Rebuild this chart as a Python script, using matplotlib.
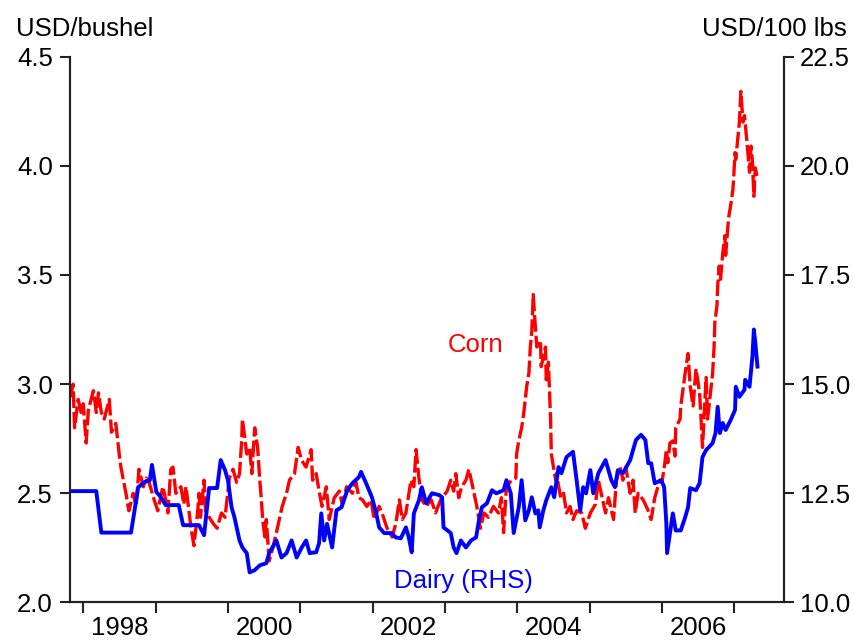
import numpy as np
import matplotlib
matplotlib.use('Agg')
import matplotlib.pyplot as plt
from matplotlib.ticker import FormatStrFormatter

# corn price, USD/bushel (left axis)
corn_t = [1997.82, 1997.86, 1997.88, 1997.93, 1997.97, 1998.00, 1998.04, 1998.07, 1998.14, 1998.18,
          1998.21, 1998.25, 1998.29, 1998.36, 1998.39, 1998.45, 1998.48, 1998.50, 1998.52, 1998.56,
          1998.59, 1998.63, 1998.69, 1998.73, 1998.77, 1998.83, 1998.87, 1998.91, 1998.98, 1999.03,
          1999.10, 1999.14, 1999.17, 1999.21, 1999.24, 1999.28, 1999.35, 1999.39, 1999.42, 1999.49,
          1999.53, 1999.58, 1999.60, 1999.62, 1999.67, 1999.69, 1999.76, 1999.80, 1999.85, 1999.91,
          1999.96, 2000.02, 2000.07, 2000.12, 2000.16, 2000.19, 2000.20, 2000.26, 2000.30, 2000.33,
          2000.37, 2000.41, 2000.44, 2000.46, 2000.48, 2000.51, 2000.53, 2000.57, 2000.62, 2000.67,
          2000.71, 2000.75, 2000.81, 2000.85, 2000.92, 2000.97, 2001.02, 2001.08, 2001.15, 2001.17,
          2001.22, 2001.26, 2001.30, 2001.36, 2001.40, 2001.47, 2001.54, 2001.58, 2001.64, 2001.72,
          2001.77, 2001.81, 2001.86, 2001.92, 2001.98, 2002.02, 2002.09, 2002.13, 2002.20, 2002.27,
          2002.32, 2002.37, 2002.41, 2002.46, 2002.53, 2002.57, 2002.60, 2002.64, 2002.68, 2002.74,
          2002.81, 2002.87, 2002.94, 2003.03, 2003.08, 2003.12, 2003.15, 2003.19, 2003.23, 2003.29,
          2003.33, 2003.37, 2003.44, 2003.49, 2003.54, 2003.60, 2003.67, 2003.74, 2003.78, 2003.81,
          2003.85, 2003.92, 2003.98, 2003.99, 2004.02, 2004.06, 2004.09, 2004.13, 2004.16, 2004.18,
          2004.20, 2004.22, 2004.25, 2004.27, 2004.32, 2004.33, 2004.39, 2004.40, 2004.43, 2004.46,
          2004.47, 2004.50, 2004.53, 2004.54, 2004.60, 2004.64, 2004.68, 2004.73, 2004.77, 2004.82,
          2004.89, 2004.94, 2005.01, 2005.08, 2005.12, 2005.16, 2005.22, 2005.26, 2005.33, 2005.37,
          2005.42, 2005.46, 2005.50, 2005.56, 2005.60, 2005.63, 2005.67, 2005.74, 2005.81, 2005.85,
          2005.90, 2005.97, 2006.00, 2006.04, 2006.06, 2006.08, 2006.11, 2006.15, 2006.18, 2006.19,
          2006.25, 2006.26, 2006.32, 2006.36, 2006.39, 2006.43, 2006.47, 2006.52, 2006.54, 2006.56,
          2006.59, 2006.61, 2006.63, 2006.68, 2006.70, 2006.72, 2006.73, 2006.76, 2006.77, 2006.79,
          2006.81, 2006.84, 2006.87, 2006.88, 2006.92, 2006.95, 2006.98, 2006.99, 2007.01, 2007.02,
          2007.07, 2007.09, 2007.12, 2007.14, 2007.18, 2007.21, 2007.23, 2007.25, 2007.27, 2007.29,
          2007.32]
corn_val = [2.94, 3.00, 2.80, 2.93, 2.87, 2.91, 2.73, 2.88, 2.97, 2.87,
            2.96, 2.87, 2.84, 2.93, 2.78, 2.82, 2.73, 2.67, 2.62, 2.55,
            2.50, 2.42, 2.50, 2.44, 2.61, 2.53, 2.57, 2.55, 2.47, 2.42,
            2.53, 2.47, 2.41, 2.61, 2.62, 2.50, 2.53, 2.45, 2.53, 2.34,
            2.26, 2.41, 2.50, 2.39, 2.56, 2.42, 2.38, 2.36, 2.34, 2.41,
            2.39, 2.57, 2.61, 2.55, 2.59, 2.74, 2.84, 2.68, 2.71, 2.59,
            2.80, 2.71, 2.56, 2.48, 2.38, 2.30, 2.38, 2.19, 2.25, 2.32,
            2.38, 2.44, 2.50, 2.56, 2.59, 2.71, 2.65, 2.62, 2.70, 2.56,
            2.59, 2.51, 2.44, 2.53, 2.38, 2.48, 2.51, 2.45, 2.53, 2.50,
            2.55, 2.48, 2.47, 2.44, 2.47, 2.38, 2.44, 2.41, 2.34, 2.30,
            2.36, 2.47, 2.38, 2.41, 2.56, 2.53, 2.70, 2.57, 2.47, 2.44,
            2.47, 2.41, 2.47, 2.51, 2.56, 2.51, 2.59, 2.48, 2.53, 2.56,
            2.61, 2.55, 2.44, 2.34, 2.41, 2.39, 2.44, 2.41, 2.48, 2.32,
            2.53, 2.56, 2.57, 2.68, 2.74, 2.80, 2.87, 2.99, 3.05, 3.17,
            3.24, 3.41, 3.26, 3.17, 3.20, 3.08, 3.17, 3.02, 3.10, 2.84,
            2.68, 2.62, 2.56, 2.59, 2.48, 2.50, 2.41, 2.44, 2.38, 2.42,
            2.41, 2.34, 2.41, 2.45, 2.56, 2.50, 2.41, 2.48, 2.38, 2.56,
            2.62, 2.56, 2.62, 2.50, 2.56, 2.41, 2.50, 2.47, 2.42, 2.38,
            2.48, 2.56, 2.55, 2.64, 2.70, 2.64, 2.73, 2.74, 2.67, 2.80,
            2.84, 2.90, 3.05, 3.14, 2.99, 2.90, 3.07, 2.96, 2.84, 2.71,
            2.90, 3.03, 2.84, 2.99, 3.05, 3.17, 3.28, 3.36, 3.45, 3.54,
            3.48, 3.60, 3.68, 3.59, 3.76, 3.82, 3.89, 3.94, 4.06, 4.03,
            4.20, 4.34, 4.20, 4.23, 4.09, 3.97, 4.09, 4.02, 3.86, 3.99,
            3.94]

# dairy price, USD/100 lbs (right axis)
dairy_t = [1997.82, 1998.18, 1998.25, 1998.66, 1998.76, 1998.85, 1998.92, 1998.95, 1999.01, 1999.06,
           1999.14, 1999.32, 1999.38, 1999.60, 1999.67, 1999.74, 1999.85, 1999.90, 1999.96, 2000.00,
           2000.05, 2000.09, 2000.16, 2000.20, 2000.26, 2000.30, 2000.37, 2000.44, 2000.53, 2000.57,
           2000.67, 2000.74, 2000.81, 2000.88, 2000.95, 2001.02, 2001.08, 2001.13, 2001.22, 2001.26,
           2001.29, 2001.33, 2001.37, 2001.44, 2001.50, 2001.57, 2001.65, 2001.72, 2001.81, 2001.84,
           2001.91, 2001.99, 2002.05, 2002.09, 2002.16, 2002.26, 2002.32, 2002.39, 2002.46, 2002.50,
           2002.54, 2002.57, 2002.64, 2002.68, 2002.74, 2002.82, 2002.92, 2002.96, 2002.98, 2003.08,
           2003.12, 2003.16, 2003.22, 2003.29, 2003.36, 2003.43, 2003.47, 2003.51, 2003.58, 2003.65,
           2003.71, 2003.81, 2003.85, 2003.91, 2003.95, 2004.02, 2004.06, 2004.11, 2004.16, 2004.20,
           2004.25, 2004.29, 2004.31, 2004.36, 2004.40, 2004.47, 2004.51, 2004.57, 2004.61, 2004.68,
           2004.77, 2004.82, 2004.87, 2004.91, 2004.95, 2005.01, 2005.05, 2005.12, 2005.22, 2005.30,
           2005.35, 2005.39, 2005.46, 2005.56, 2005.64, 2005.71, 2005.77, 2005.81, 2005.85, 2005.90,
           2005.99, 2006.03, 2006.06, 2006.07, 2006.11, 2006.15, 2006.19, 2006.26, 2006.32, 2006.36,
           2006.39, 2006.47, 2006.52, 2006.56, 2006.61, 2006.70, 2006.74, 2006.77, 2006.80, 2006.84,
           2006.88, 2006.95, 2007.01, 2007.02, 2007.07, 2007.14, 2007.15, 2007.21, 2007.25, 2007.27,
           2007.29, 2007.32]
dairy_val = [12.55, 12.55, 11.60, 11.60, 12.64, 12.76, 12.80, 13.15, 12.53, 12.44,
             12.23, 12.23, 11.77, 11.77, 11.54, 12.62, 12.62, 13.26, 13.03, 12.80,
             12.18, 11.95, 11.42, 11.26, 11.13, 10.69, 10.74, 10.85, 10.90, 11.13,
             11.42, 11.03, 11.13, 11.42, 11.03, 11.26, 11.42, 11.13, 11.15, 11.36,
             12.04, 11.42, 11.80, 11.26, 12.11, 12.18, 12.57, 12.73, 12.87, 12.99,
             12.73, 12.41, 12.04, 11.72, 11.59, 11.59, 11.49, 11.47, 11.72, 11.49,
             11.15, 12.04, 12.34, 12.64, 12.27, 12.50, 12.46, 12.41, 11.72, 11.59,
             11.26, 11.13, 11.42, 11.26, 11.42, 11.49, 11.88, 12.18, 12.27, 12.57,
             12.50, 12.57, 12.80, 12.50, 11.59, 12.18, 12.80, 11.88, 12.11, 12.41,
             12.04, 12.11, 11.72, 12.11, 12.34, 12.64, 12.41, 13.10, 12.96, 13.33,
             13.45, 12.80, 12.11, 12.64, 12.50, 13.03, 12.50, 12.96, 13.26, 12.80,
             12.64, 13.03, 12.96, 13.26, 13.72, 13.84, 13.72, 13.19, 13.19, 12.73,
             12.80, 12.64, 11.82, 11.13, 11.59, 12.04, 11.65, 11.65, 11.95, 12.18,
             12.62, 12.57, 12.73, 13.33, 13.49, 13.65, 13.88, 14.48, 13.88, 14.11,
             13.95, 14.18, 14.41, 14.94, 14.71, 14.87, 15.10, 14.94, 15.63, 16.25,
             15.95, 15.40]

year_ticks = [1998, 1999, 2000, 2001, 2002, 2003, 2004, 2005, 2006, 2007]
year_labels = ['1998', '2000', '2002', '2004', '2006']
left_ticks = [2.0, 2.5, 3.0, 3.5, 4.0, 4.5]
right_ticks = [10.0, 12.5, 15.0, 17.5, 20.0, 22.5]

plt.rcParams['font.family'] = ['Liberation Sans', 'DejaVu Sans']
plt.rcParams['font.size'] = 18.5

red = '#ff0000'
blue = '#0000ff'
axis_col = '#222222'

fig = plt.figure(figsize=(8.55, 6.4), dpi=100)
ax1 = fig.add_axes([0.0813, 0.0586, 0.8351, 0.8531])
ax2 = ax1.twinx()

ax1.plot(corn_t, corn_val, color=red, lw=2.4, dashes=(5, 1.2))
ax2.plot(dairy_t, dairy_val, color=blue, lw=2.8)

ax1.set_xlim(1997.81, 2007.68)
ax1.set_ylim(2.0, 4.5)
ax2.set_ylim(10.0, 22.5)

ax1.set_yticks(left_ticks)
ax2.set_yticks(right_ticks)
ax1.yaxis.set_major_formatter(FormatStrFormatter('%.1f'))
ax2.yaxis.set_major_formatter(FormatStrFormatter('%.1f'))

# year boundaries get the tick marks, labels sit mid-year
ax1.set_xticks(year_ticks)
ax1.set_xticklabels([])
ax1.set_xticks([int(y) + 0.5 for y in year_labels], minor=True)
ax1.set_xticklabels(year_labels, minor=True)

ax1.tick_params(axis='x', which='major', length=8, width=1.5, color=axis_col, direction='out')
ax1.tick_params(axis='x', which='minor', length=0, pad=10)
ax1.tick_params(axis='y', length=7, width=1.5, color=axis_col, pad=5)
ax2.tick_params(axis='y', length=7, width=1.5, color=axis_col, pad=5)

for ax in (ax1, ax2):
    ax.spines['top'].set_visible(False)
    for s in ('left', 'right', 'bottom'):
        ax.spines[s].set_linewidth(1.5)
        ax.spines[s].set_color(axis_col)

ax1.text(2003.42, 3.147, 'Corn', color=red, ha='center', va='baseline')
ax1.text(2003.26, 2.066, 'Dairy (RHS)', color=blue, ha='center', va='baseline')

fig.text(16 / 855, 1 - 36 / 640, 'USD/bushel', ha='left', va='baseline')
fig.text(847 / 855, 1 - 36 / 640, 'USD/100 lbs', ha='right', va='baseline')

plt.savefig('out.png', dpi=100)
